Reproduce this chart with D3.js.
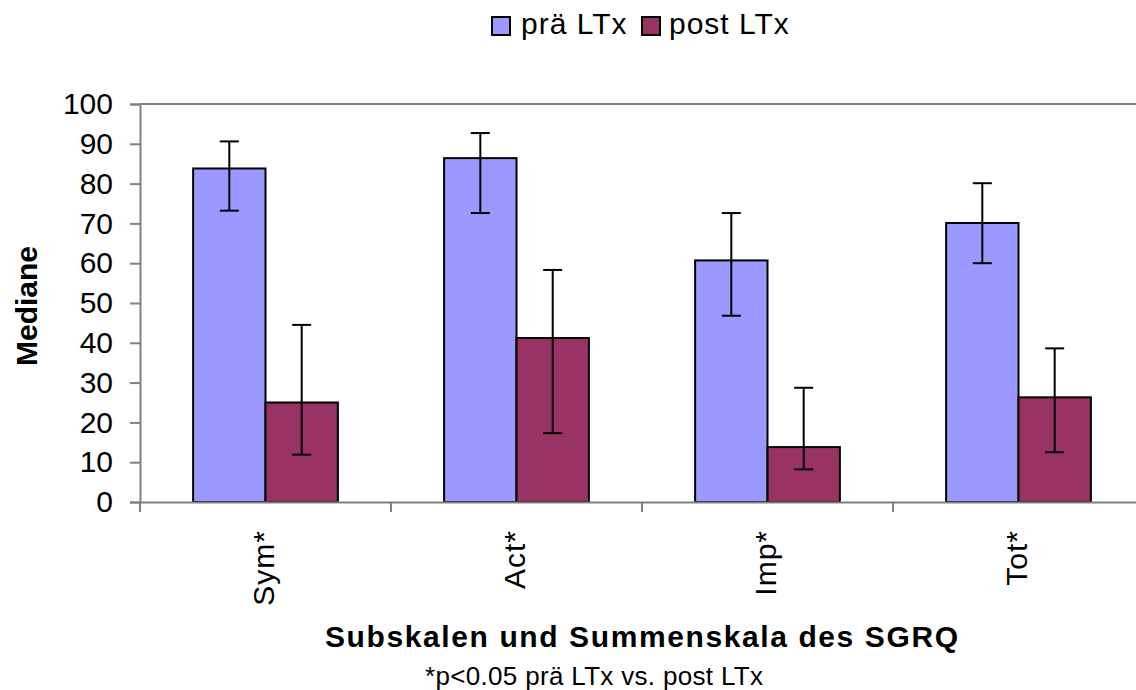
<!DOCTYPE html>
<html>
<head>
<meta charset="utf-8">
<script src="https://cdn.jsdelivr.net/npm/d3@7"></script>
<style>
  body { margin: 0; background: #fff; }
  text { font-family: "Liberation Sans", Arial, sans-serif; fill: #000; }
</style>
</head>
<body>
<div id="chart"></div>
<script>
// Data
var categories = ["Sym*", "Act*", "Imp*", "Tot*"];
var seriesNames = ["prä LTx", "post LTx"];
var preValues = [83.8, 86.4, 60.7, 70.1];
var preLow = [73.2, 72.6, 46.8, 60.0];
var preHigh = [90.6, 92.7, 72.6, 80.1];
var postValues = [25.0, 41.2, 13.8, 26.3];
var postLow = [11.9, 17.3, 8.2, 12.5];
var postHigh = [44.5, 58.3, 28.7, 38.6];
var yTicks = [0, 10, 20, 30, 40, 50, 60, 70, 80, 90, 100];
var colors = ["#9999ff", "#993366"];

var width = 1136, height = 690;
var plot = { left: 140, right: 1144, top: 104, bottom: 502 };

var svg = d3.select("#chart").append("svg")
	.attr("width", width)
	.attr("height", height);

// Scales
var x0 = d3.scaleBand()
	.domain(categories)
	.range([plot.left, plot.right])
	.padding(0);

var x1 = d3.scaleBand()
	.domain(seriesNames)
	.range([0, x0.bandwidth()])
	.paddingInner(0)
	.paddingOuter(0.734);

var y = d3.scaleLinear()
	.domain([0, 100])
	.range([plot.bottom, plot.top]);

// Plot area top border
svg.append("line")
	.attr("x1", plot.left).attr("x2", plot.right)
	.attr("y1", y(100)).attr("y2", y(100))
	.attr("stroke", "#808080").attr("stroke-width", 2);

// Build rows
var flat = [];
categories.forEach(function(c, i) {
	flat.push({ cat: c, s: seriesNames[0], v: preValues[i], lo: preLow[i], hi: preHigh[i], color: colors[0] });
	flat.push({ cat: c, s: seriesNames[1], v: postValues[i], lo: postLow[i], hi: postHigh[i], color: colors[1] });
});

// Bars
svg.append("g").selectAll("rect")
	.data(flat)
	.enter().append("rect")
		.attr("x", function(d) { return x0(d.cat) + x1(d.s); })
		.attr("y", function(d) { return y(d.v); })
		.attr("width", x1.bandwidth())
		.attr("height", function(d) { return y(0) - y(d.v); })
		.attr("fill", function(d) { return d.color; })
		.attr("stroke", "#000")
		.attr("stroke-width", 2);

// Error bars
var err = svg.append("g").selectAll("g")
	.data(flat)
	.enter().append("g")
		.attr("transform", function(d) { return "translate(" + (x0(d.cat) + x1(d.s) + x1.bandwidth() / 2) + ",0)"; })
		.attr("stroke", "#000")
		.attr("stroke-width", 2);

err.append("line")
	.attr("y1", function(d) { return y(d.lo); })
	.attr("y2", function(d) { return y(d.hi); });
err.append("line")
	.attr("x1", -9.5).attr("x2", 9.5)
	.attr("y1", function(d) { return y(d.hi); })
	.attr("y2", function(d) { return y(d.hi); });
err.append("line")
	.attr("x1", -9.5).attr("x2", 9.5)
	.attr("y1", function(d) { return y(d.lo); })
	.attr("y2", function(d) { return y(d.lo); });

// Y axis
var yAxis = svg.append("g")
	.attr("transform", "translate(" + plot.left + ",0)")
	.call(d3.axisLeft(y).tickValues(yTicks).tickSize(10).tickPadding(17).tickFormat(d3.format("d")));
yAxis.select(".domain").attr("stroke", "#808080").attr("stroke-width", 2);
yAxis.selectAll(".tick line").attr("stroke", "#808080").attr("stroke-width", 2);
yAxis.selectAll("text")
	.style("font-size", "30px")
	.attr("fill", "#000");

// X axis
var xAxis = svg.append("g")
	.attr("transform", "translate(0," + plot.bottom + ")")
	.call(d3.axisBottom(x0).tickSize(0).tickPadding(0));
xAxis.select(".domain").attr("stroke", "#808080").attr("stroke-width", 2);
xAxis.selectAll("text")
	.style("font-size", "30px")
	.style("letter-spacing", "1px")
	.attr("fill", "#000")
	.attr("text-anchor", "end")
	.attr("dy", null)
	.attr("y", 0)
	.attr("x", 0)
	.attr("transform", "translate(8,28) rotate(-90)");

// Category separator ticks
svg.append("g").selectAll("line")
	.data(categories.concat(["end"]))
	.enter().append("line")
		.attr("x1", function(d, i) { return plot.left + i * x0.step(); })
		.attr("x2", function(d, i) { return plot.left + i * x0.step(); })
		.attr("y1", plot.bottom)
		.attr("y2", plot.bottom + 10)
		.attr("stroke", "#808080")
		.attr("stroke-width", 2);

// Axis titles
svg.append("text")
	.attr("x", 325)
	.attr("y", 647)
	.attr("textLength", 633)
	.attr("lengthAdjust", "spacing")
	.style("font-size", "30px")
	.style("font-weight", "bold")
	.text("Subskalen und Summenskala des SGRQ");

svg.append("text")
	.attr("transform", "translate(37," + ((plot.top + plot.bottom) / 2 + 3) + ") rotate(-90)")
	.attr("text-anchor", "middle")
	.style("font-size", "30px")
	.style("font-weight", "bold")
	.text("Mediane");

// Footnote
svg.append("text")
	.attr("x", 425)
	.attr("y", 685)
	.attr("textLength", 338)
	.attr("lengthAdjust", "spacing")
	.style("font-size", "26px")
	.text("*p<0.05 prä LTx vs. post LTx");

// Legend
var legendX = [492, 642];
var legendTextX = [521, 669];
var legend = svg.append("g").selectAll("g")
	.data(seriesNames)
	.enter().append("g");
legend.append("rect")
	.attr("x", function(d, i) { return legendX[i]; })
	.attr("y", 17)
	.attr("width", 18).attr("height", 18)
	.attr("fill", function(d, i) { return colors[i]; })
	.attr("stroke", "#000")
	.attr("stroke-width", 2);
legend.append("text")
	.attr("x", function(d, i) { return legendTextX[i]; })
	.attr("y", 34)
	.style("font-size", "30px")
	.style("letter-spacing", "1px")
	.text(function(d) { return d; });
</script>
</body>
</html>
